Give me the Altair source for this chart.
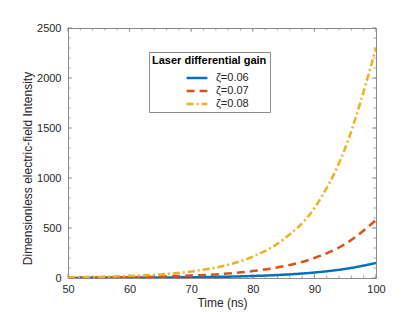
import altair as alt
import pandas as pd

time_ns = [50, 55, 60, 65, 70, 75, 80, 85, 90, 95, 100]
series_names = ["ζ=0.06", "ζ=0.07", "ζ=0.08"]
vals_006 = [1, 1.6, 2.7, 4.5, 7.5, 12, 20, 33, 55, 91, 150]
vals_007 = [3, 5, 8, 14, 24, 40, 69, 117, 200, 340, 580]
vals_008 = [6, 11, 20, 36, 65, 118, 213, 387, 700, 1300, 2300]
colors = ["#0072BD", "#D95319", "#EDB120"]
dashes = [[1, 0], [8, 5], [7, 3, 2, 3]]

x_major = [50, 60, 70, 80, 90, 100]
x_minor = list(range(50, 101, 2))
y_major = [0, 500, 1000, 1500, 2000, 2500]
y_minor = list(range(0, 2501, 100))

W, H = 308, 250
FONT = "Liberation Sans"
AX = "#8c8c8c"

rows = []
for name, vals in zip(series_names, [vals_006, vals_007, vals_008]):
    for t, v in zip(time_ns, vals):
        rows.append({"t": t, "v": v, "s": name})
df = pd.DataFrame(rows)

xs = alt.Scale(domain=[50, 100], nice=False)
ys = alt.Scale(domain=[0, 2500], nice=False)

lines = alt.Chart(df).mark_line(strokeWidth=2.5, interpolate="monotone", clip=True).encode(
    x=alt.X("t:Q", scale=xs, axis=alt.Axis(values=x_major, title="Time (ns)", grid=False, format="d",
                                           labelFlush=False, tickSize=0, labelPadding=5,
                                           titlePadding=3, domain=False)),
    y=alt.Y("v:Q", scale=ys, axis=alt.Axis(values=y_major, title="Dimensionless electric-field Intensity",
                                           grid=False, tickSize=0, labelPadding=7, titlePadding=2,
                                           titleY=140,
                                           format="d", labelFlush=False, domain=False)),
    color=alt.Color("s:N", scale=alt.Scale(domain=series_names, range=colors),
                    legend=alt.Legend(title="Laser differential gain", orient="none",
                                      legendX=81, legendY=24, symbolType="M-1.6,0H1.6",
                                      symbolSize=169, symbolStrokeWidth=2.5,
                                      symbolOffset=37, labelOffset=11,
                                      strokeColor=AX, padding=3, fillColor="white",
                                      titleFontWeight="bold", titleFontSize=11, titleFont=FONT,
                                      labelFont=FONT, labelFontSize=11, labelColor="#262626",
                                      titleColor="#000000", rowPadding=0, titlePadding=4)),
    strokeDash=alt.StrokeDash("s:N", scale=alt.Scale(domain=series_names, range=dashes),
                              legend=alt.Legend(title="Laser differential gain")),
)

def tick_layer(vals, field, length, side):
    d = pd.DataFrame({field: vals})
    c = alt.Chart(d).mark_rule(color=AX, strokeWidth=0.8)
    if side == "bottom":
        return c.encode(x=alt.X(f"{field}:Q", scale=xs), y=alt.value(H), y2=alt.value(H - length))
    if side == "top":
        return c.encode(x=alt.X(f"{field}:Q", scale=xs), y=alt.value(0), y2=alt.value(length))
    if side == "left":
        return c.encode(y=alt.Y(f"{field}:Q", scale=ys), x=alt.value(0), x2=alt.value(length))
    return c.encode(y=alt.Y(f"{field}:Q", scale=ys), x=alt.value(W), x2=alt.value(W - length))

ticks = []
for side in ["bottom", "top"]:
    ticks.append(tick_layer(x_minor, "t", 2.5, side))
    ticks.append(tick_layer(x_major, "t", 4, side))
for side in ["left", "right"]:
    ticks.append(tick_layer(y_minor, "v", 2.5, side))
    ticks.append(tick_layer(y_major, "v", 4, side))

sep = alt.Chart(pd.DataFrame({"a": [0]})).mark_rule(color=AX, strokeWidth=0.8).encode(
    x=alt.value(81), x2=alt.value(202), y=alt.value(39))

chart = alt.layer(*ticks, lines, sep).properties(
    width=W, height=H,
    autosize=alt.AutoSizeParams(type="none"),
    padding={"left": 60, "top": 20, "right": 31, "bottom": 36},
).configure_view(stroke=AX, strokeWidth=1).configure_axis(
    labelFont=FONT, titleFont=FONT, labelFontSize=11, titleFontSize=12,
    labelColor="#262626", titleColor="#262626", titleFontWeight="normal",
)

chart.save("out.html", embed_options={"renderer": "svg", "actions": False})
